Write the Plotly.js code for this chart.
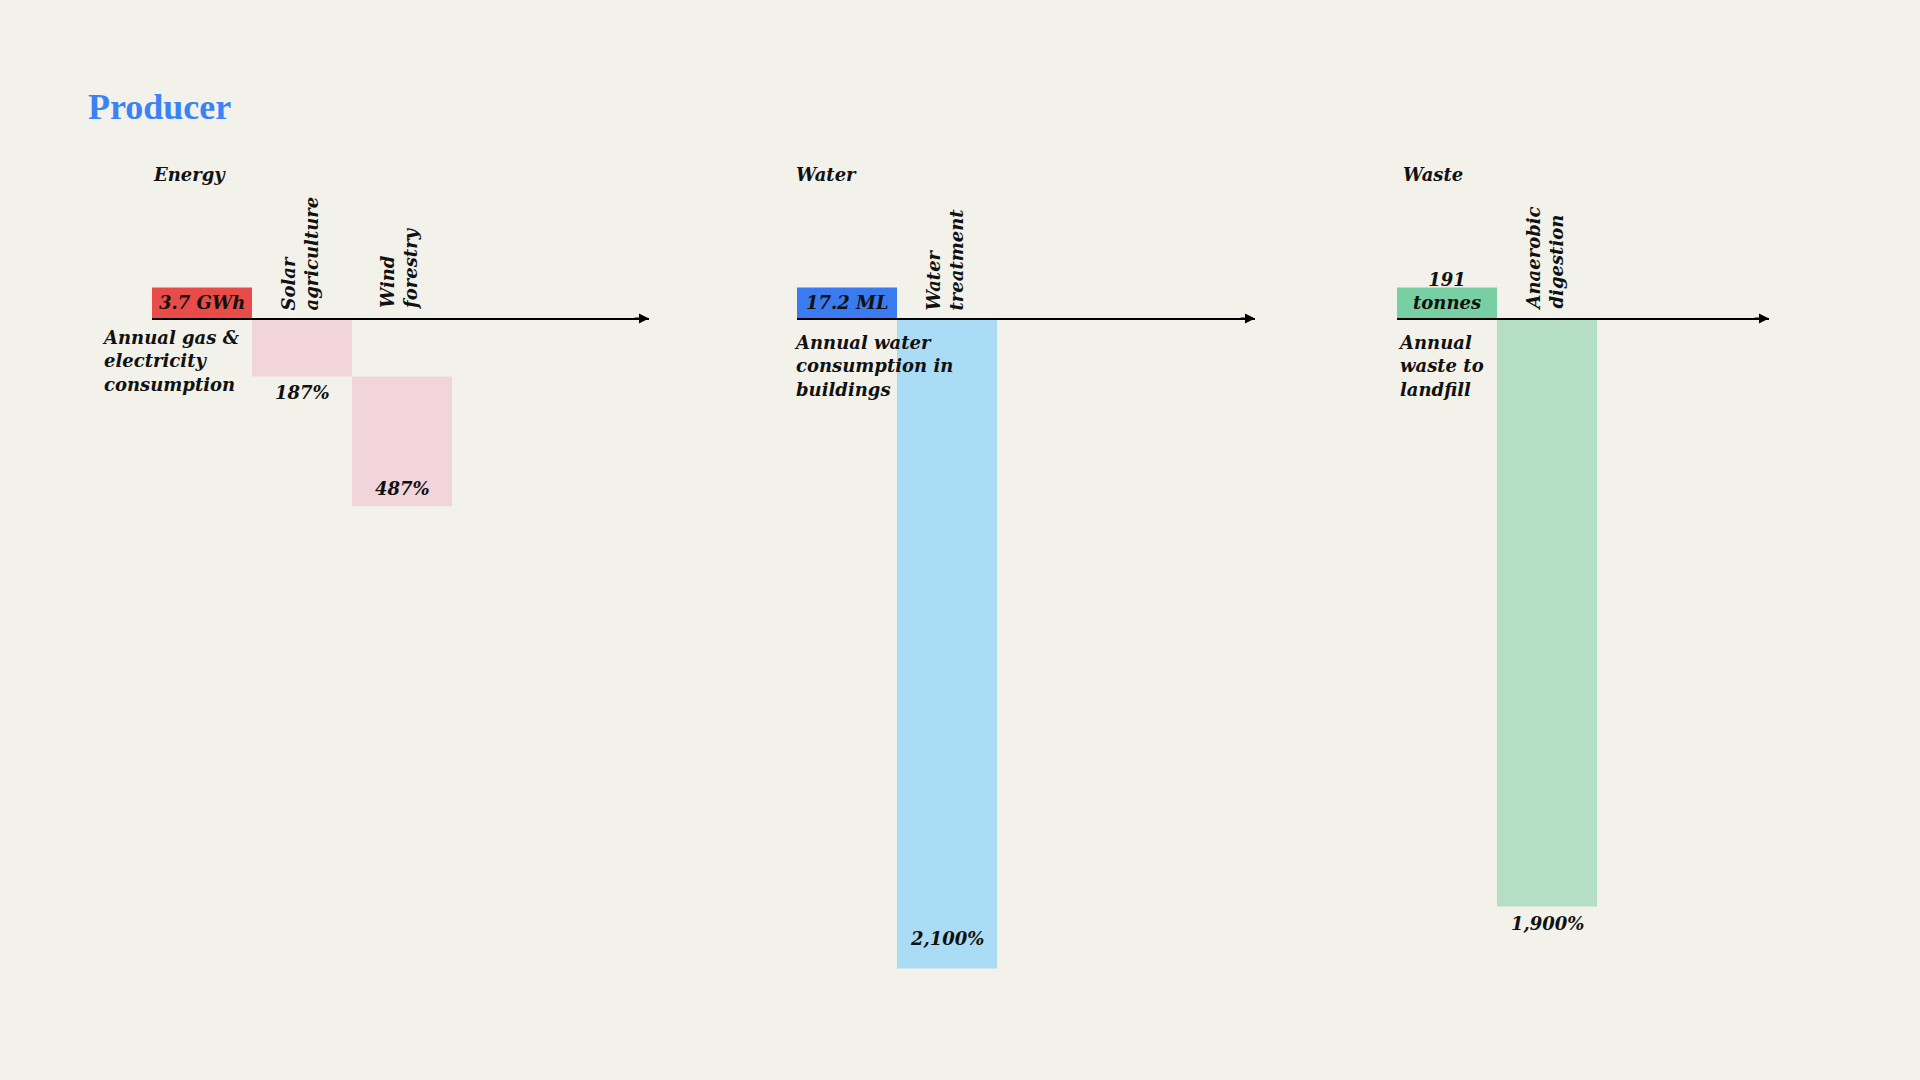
<!DOCTYPE html>
<html><head><meta charset="utf-8">
<script src="https://cdn.plot.ly/plotly-3.0.1.min.js"></script>
<style>html,body{margin:0;padding:0;background:#f2f2eb;}#chart{width:1920px;height:1080px;}</style>
</head><body><div id="chart"></div>
<script>
// ---------- data ----------
const chartTitle = 'Producer';
const groupTitles = ['Energy', 'Water', 'Waste'];
const baseLabels = ['3.7 GWh', '17.2 ML', '191<br>tonnes'];
const baseDescriptions = [
  'Annual gas &<br>electricity<br>consumption',
  'Annual water<br>consumption in<br>buildings',
  'Annual<br>waste to<br>landfill'
];
const baseValue = 100; // consumption baseline = 100 %
const energyCategories = ['Solar<br>agriculture', 'Wind<br>forestry'];
const energyValues = [187, 420];      // bar lengths in % as drawn
const energyLabels = ['187%', '487%'];
const waterCategories = ['Water<br>treatment'];
const waterValues = [2100];
const waterLabels = ['2,100%'];
const wasteCategories = ['Anaerobic<br>digestion'];
const wasteValues = [1900];
const wasteLabels = ['1,900%'];

// ---------- styling / layout ----------
const W = 1920, H = 1080;
const zeroPx = 318.5, pxPerUnit = 0.3095, barPx = 100;
const yMax = zeroPx / pxPerUnit, yMin = yMax - H / pxPerUnit;
const axisPos = 1 - zeroPx / H;
const FONT = {family: '"DejaVu Serif", serif', size: 18, color: '#111111', weight: 'bold', style: 'italic'};

const groups = [
  {cats: energyCategories, vals: energyValues, labels: energyLabels,
   start: 152, end: 649, baseColor: '#e94c48', barColor: '#f2d5db',
   titlePx: 151, descShift: -52, descY: -6, labelShift: [-16, 18]},
  {cats: waterCategories, vals: waterValues, labels: waterLabels,
   start: 797, end: 1255, baseColor: '#3a7bef', barColor: '#abdcf6',
   titlePx: 794, descShift: -5, descY: -11, labelShift: [30]},
  {cats: wasteCategories, vals: wasteValues, labels: wasteLabels,
   start: 1397, end: 1769, baseColor: '#78cfa3', barColor: '#b4dfc4',
   titlePx: 1401, descShift: -1, descY: -11, labelShift: [-17]}
];

const traces = [];
const annotations = [];
const layout = {
  width: W, height: H,
  margin: {l: 0, r: 0, t: 0, b: 0, pad: 0},
  paper_bgcolor: '#f2f2eb', plot_bgcolor: 'rgba(0,0,0,0)',
  showlegend: false,
  font: FONT,
  title: {
    text: chartTitle, x: 88 / W, xanchor: 'left', xref: 'paper',
    y: 1 - 106 / H, yanchor: 'middle', yref: 'paper',
    font: {family: '"Liberation Serif", serif', size: 36, color: '#3b82f6', weight: 'bold', style: 'normal'}
  },
  yaxis: {range: [yMin, yMax], domain: [0, 1], visible: false, fixedrange: true, anchor: 'x'},
  annotations: annotations
};

groups.forEach((g, gi) => {
  const xName = gi === 0 ? 'x' : 'x' + (gi + 1);
  const axKey = gi === 0 ? 'xaxis' : 'xaxis' + (gi + 1);
  const rangeEnd = -0.5 + (g.end - g.start) / barPx;
  layout[axKey] = {
    domain: [g.start / W, g.end / W], range: [-0.5, rangeEnd],
    anchor: 'free', position: axisPos,
    showline: true, linecolor: '#000000', linewidth: 2,
    showgrid: false, zeroline: false, showticklabels: false, ticks: '', fixedrange: true
  };
  // bars: baseline box + waterfall of producer bars
  const xs = [0], ys = [baseValue], bases = [0], colors = [g.baseColor];
  let cum = 0;
  g.vals.forEach((v, i) => {
    xs.push(i + 1); ys.push(-v); bases.push(-cum); colors.push(g.barColor);
    cum += v;
  });
  traces.push({
    type: 'bar', x: xs, y: ys, base: bases, width: 1,
    xaxis: xName, yaxis: 'y',
    marker: {color: colors, line: {width: 0}},
    hoverinfo: 'skip'
  });
  // arrowhead at the end of axis
  annotations.push({
    xref: xName + ' domain', yref: 'y', x: 1, y: 0,
    axref: 'pixel', ayref: 'pixel', ax: -16, ay: 0,
    text: '', showarrow: true, arrowhead: 2, arrowsize: 1, arrowwidth: 2, arrowcolor: '#000000', standoff: 0
  });
  // group title
  annotations.push({
    xref: 'paper', yref: 'paper', x: g.titlePx / W, y: 1 - 175 / H,
    xanchor: 'left', yanchor: 'middle', text: groupTitles[gi], showarrow: false, font: FONT
  });
  // baseline box label
  annotations.push({
    xref: xName, yref: 'y', x: 0, y: 0, xanchor: 'center', yanchor: 'bottom', yshift: 4,
    text: baseLabels[gi], showarrow: false, font: FONT, align: 'center'
  });
  // baseline description
  annotations.push({
    xref: xName, yref: 'y', x: -0.5, y: 0, xanchor: 'left', yanchor: 'top',
    xshift: g.descShift, yshift: g.descY,
    text: baseDescriptions[gi], showarrow: false, font: FONT, align: 'left'
  });
  // category labels and percent labels
  let c2 = 0;
  g.vals.forEach((v, i) => {
    c2 += v;
    annotations.push({
      xref: xName, yref: 'y', x: i + 1, y: 0, xanchor: 'center', yanchor: 'bottom', yshift: 6,
      xshift: -3, textangle: -90, align: 'left', text: g.cats[i], showarrow: false, font: FONT
    });
    annotations.push({
      xref: xName, yref: 'y', x: i + 1, y: -c2, xanchor: 'center', yanchor: 'middle',
      yshift: g.labelShift[i], text: g.labels[i], showarrow: false, font: FONT
    });
  });
});

Plotly.newPlot('chart', traces, layout, {staticPlot: true, displayModeBar: false});
</script>
</body></html>
